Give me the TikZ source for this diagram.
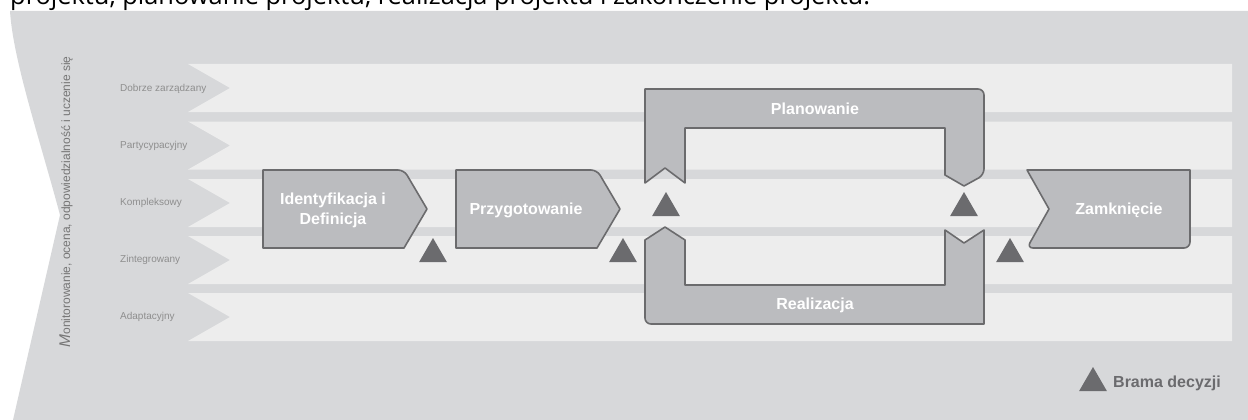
\documentclass[tikz,border=0pt]{standalone}
\usepackage{fontspec}
\setmainfont{Liberation Sans}
\newfontfamily\headfont{Open Sans}
\usetikzlibrary{shapes.geometric}
\definecolor{panel}{HTML}{D7D8DA}
\definecolor{band}{HTML}{EDEDED}
\definecolor{stagefill}{HTML}{BBBCBF}
\definecolor{stageline}{HTML}{6B6B6D}
\definecolor{gatecol}{HTML}{6B6B6E}
\definecolor{rowtext}{HTML}{8E8E8E}
\definecolor{sidetext}{HTML}{767676}
\begin{document}
\begin{tikzpicture}[x=1pt,y=-1pt,
  bandstyle/.style={fill=band},
  stagebox/.style={fill=stagefill,draw=stageline,line width=1.6pt,line join=round},
  stagetext/.style={text=white,font=\bfseries\fontsize{16}{20}\selectfont,align=center,inner sep=0pt},
  rowlabel/.style={text=rowtext,font=\fontsize{10}{12}\selectfont,anchor=west,inner sep=0pt},
  gate/.style={regular polygon,regular polygon sides=3,minimum size=32pt,inner sep=0pt,fill=gatecol}]
\useasboundingbox (0,0) rectangle (1248,420);

% closing line of the preceding paragraph
\begin{scope}
  \clip (0,0) rectangle (1248,420);
  \node[anchor=base west,inner sep=0pt,font=\headfont\fontsize{25.4}{30}\selectfont] (intro) at (10,5)
    {projektu, planowanie projektu, realizacja projektu i zakończenie projektu.};
\end{scope}

% grey panel with the notched left edge
\fill[panel] (10,11) -- (1248,11) -- (1248,420) -- (13,420) -- (60,215)
  .. controls (40,140) and (13,60) .. cycle;

% five light rows, each with a notch on its left end
\foreach \t in {64,121.5,179,236,293}
  \fill[bandstyle] (188,\t) -- (1232,\t) -- (1232,\t+48) -- (188,\t+48) -- (230,\t+24) -- cycle;

% row labels
\node[rowlabel] (r1) at (120,89)  {Dobrze zarządzany};
\node[rowlabel] (r2) at (120,146) {Partycypacyjny};
\node[rowlabel] (r3) at (120,203) {Kompleksowy};
\node[rowlabel] (r4) at (120,260) {Zintegrowany};
\node[rowlabel] (r5) at (120,317) {Adaptacyjny};

% vertical caption
\node[rotate=90,inner sep=0pt,text=sidetext,font=\fontsize{12}{14}\selectfont] (monitor) at (66,202)
  {{\fontsize{15.5}{15.5}\selectfont\itshape M}onitorowanie, ocena, odpowiedzialność i uczenie się};

% stage shapes
\draw[stagebox] (263,209) -- (263,170) [rounded corners=6pt] -- (404,170) [sharp corners] -- (427,209)
  -- (404,248) -- (263,248) [rounded corners=6pt] -- cycle;
\draw[stagebox] (456,209) -- (456,170) [rounded corners=6pt] -- (597,170) [sharp corners] -- (620,209)
  -- (597,248) -- (456,248) [rounded corners=6pt] -- cycle;
\draw[stagebox] (1049,209) -- (1027,170) -- (1190,170) [rounded corners=6pt] -- (1190,248)
  -- (1027,248) [sharp corners] -- cycle;
\draw[stagebox] (645,183) -- (645,89) [rounded corners=6pt] -- (984,89) -- (984,175) [sharp corners]
  -- (964,186) -- (945,175) -- (945,128) -- (685,128) -- (685,183) -- (665,168) -- cycle;
\draw[stagebox] (645,240) -- (665,227) -- (685,240) -- (685,285) -- (945,285) -- (945,230)
  -- (964,243) -- (984,230) -- (984,324) [rounded corners=6pt] -- (645,324) -- (645,270) [sharp corners] -- cycle;

% stage names
\node[stagetext] (ident) at (333,210) {Identyfikacja i\\Definicja};
\node[stagetext] (prep)  at (526,210) {Przygotowanie};
\node[stagetext] (plan)  at (815,109) {Planowanie};
\node[stagetext] (impl)  at (815,305) {Realizacja};
\node[stagetext] (close) at (1119,210) {Zamknięcie};

% decision gates
\node[gate] (g1) at (433,254) {};
\node[gate] (g2) at (623,254) {};
\node[gate] (g3) at (666,208) {};
\node[gate] (g4) at (964,208) {};
\node[gate] (g5) at (1010,254) {};

% legend
\node[gate] (gkey) at (1093,383) {};
\node[anchor=west,inner sep=0pt,text=gatecol,font=\bfseries\fontsize{16}{20}\selectfont] (keytext) at (1113,383) {Brama decyzji};
\end{tikzpicture}
\end{document}
